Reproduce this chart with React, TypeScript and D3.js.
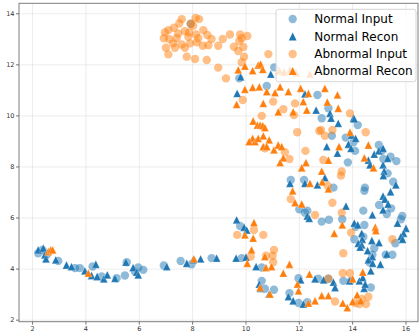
import React, { useRef, useEffect } from "react";
import * as d3 from "d3";

// points, as [x, y]
const normalInput: [number, number][] = [
  [7.93, 13.6], [11.06, 11.9], [10.78, 11.17], [12.68, 10.82], [13.09, 10.3], [12.84, 9.91],
  [9.75, 11.47], [11.68, 7.49], [12.18, 7.49],
  [14.19, 9.64], [13.22, 9.22], [13.74, 9.15], [14.03, 8.97], [14.09, 8.63], [13.82, 8.18],
  [14.98, 8.86], [15.15, 8.31], [15.42, 8.4], [15.64, 8.23], [15.09, 8.63], [15.31, 7.75],
  [15.52, 7.42], [14.46, 7.19], [13.28, 7.19],
  [9.78, 5.69], [12.0, 6.34], [12.21, 6.21], [12.3, 6.29], [9.84, 4.43],
  [14.44, 7.07], [14.99, 6.51], [14.4, 6.29], [15.28, 6.16], [15.44, 6.38], [15.86, 6.08],
  [15.81, 5.95], [12.84, 5.86], [13.11, 5.93], [13.61, 5.95], [14.44, 5.73], [14.11, 5.66],
  [15.6, 5.01], [14.06, 5.17], [14.4, 5.27], [14.81, 4.82], [14.74, 4.56], [15.49, 4.56], [15.24, 4.56],
  [10.59, 4.06], [10.59, 3.54], [10.71, 3.23], [11.05, 3.19], [11.63, 3.06], [11.97, 3.64],
  [11.97, 2.67], [12.3, 2.7], [12.71, 3.62], [13.09, 3.62], [13.65, 3.54], [13.93, 3.54],
  [14.63, 4.27], [14.68, 3.28],
  [2.21, 4.62], [2.37, 4.75], [2.53, 4.56], [2.96, 4.32], [3.59, 4.04], [3.77, 4.04], [4.25, 4.1],
  [4.59, 3.71], [5.15, 3.64], [5.53, 4.27], [5.84, 3.9], [5.96, 4.06], [6.15, 3.97], [5.46, 3.75],
  [6.92, 4.14], [7.55, 4.32], [7.96, 4.19], [8.71, 4.43],
];

const normalRecon: [number, number][] = [
  [10.93, 11.64], [12.21, 10.86], [12.63, 10.23], [13.15, 10.1], [14.03, 9.91],
  [9.67, 10.88], [9.8, 11.53],
  [11.65, 7.36], [12.21, 7.36], [12.68, 7.3],
  [13.19, 9.91], [14.06, 9.88], [13.46, 9.71], [13.96, 9.25], [14.11, 9.12], [13.84, 8.89],
  [13.94, 8.73], [13.03, 8.8], [13.43, 8.54], [14.59, 8.27], [14.65, 8.08], [14.81, 8.5],
  [14.98, 8.63], [15.14, 8.73], [15.31, 8.34], [15.14, 8.08], [15.18, 7.84], [15.15, 7.66],
  [15.62, 7.3], [15.42, 7.03], [12.96, 7.58],
  [9.65, 5.93], [9.93, 5.64], [10.03, 5.53], [12.3, 6.08], [12.37, 5.99], [9.63, 4.43], [10.0, 4.47],
  [13.75, 6.47], [14.74, 6.12], [15.14, 6.86], [15.21, 6.74], [15.33, 6.55], [15.14, 6.32],
  [15.68, 5.8], [16.0, 5.6], [15.91, 5.4], [15.81, 5.27], [15.87, 5.17], [14.06, 5.8],
  [14.19, 5.73], [14.34, 5.4], [14.36, 5.17], [14.21, 5.01], [14.34, 4.95], [14.28, 4.86],
  [14.72, 5.12], [14.99, 5.04], [14.56, 4.72], [14.74, 4.49], [15.28, 4.59],
  [10.38, 4.1], [10.5, 3.41], [10.55, 3.25], [10.87, 3.02], [11.59, 2.92], [11.77, 2.76],
  [12.05, 3.58], [12.15, 2.63], [12.59, 3.62], [12.91, 3.58], [13.28, 3.49], [13.34, 3.28],
  [13.88, 3.54], [14.25, 3.54], [14.38, 3.67], [14.43, 3.25], [14.47, 3.41], [14.59, 4.36],
  [14.68, 3.93], [15.04, 4.19], [14.75, 4.23],
  [2.21, 4.75], [2.4, 4.82], [2.46, 4.56], [2.5, 4.4], [2.87, 4.36], [3.27, 4.16], [3.46, 4.1],
  [3.96, 3.93], [4.21, 3.75], [4.37, 4.19], [4.42, 3.71], [4.67, 3.62], [4.8, 3.77], [5.09, 3.64],
  [5.5, 4.27], [5.77, 4.06], [5.9, 3.88], [5.96, 3.77], [7.03, 4.1], [7.78, 4.23], [8.02, 4.36],
  [8.3, 4.4], [8.9, 4.43],
];

const abnormalInput: [number, number][] = [
  [7.59, 13.79], [8.11, 13.84], [8.24, 13.79], [7.93, 13.62], [7.5, 13.62], [8.02, 13.53],
  [7.3, 13.45], [7.09, 13.36], [6.96, 13.27], [7.71, 13.32], [7.87, 13.27], [8.4, 13.36],
  [7.46, 13.23], [8.13, 13.19], [8.55, 13.17], [9.4, 13.19], [9.78, 13.19], [10.05, 13.13],
  [6.92, 13.04], [7.12, 13.01], [7.4, 13.04], [7.84, 13.1], [8.21, 13.04], [8.71, 13.01],
  [9.13, 13.01], [9.84, 13.04], [7.27, 12.84], [7.59, 12.8], [7.9, 12.84], [8.15, 12.88],
  [8.38, 12.75], [8.59, 12.77], [9.75, 12.93], [7.0, 12.67], [7.34, 12.67], [7.71, 12.67],
  [8.96, 12.75], [9.55, 12.71], [9.71, 12.54], [7.09, 12.41], [7.78, 12.32], [8.09, 12.23],
  [8.53, 12.19], [9.93, 12.32], [8.96, 11.89], [9.84, 12.1], [10.84, 12.42], [9.9, 12.7],
  [11.02, 10.56], [11.4, 10.26], [11.84, 10.49], [13.9, 10.1], [9.25, 11.47], [9.88, 10.62],
  [10.59, 10.0], [11.8, 10.03], [11.92, 9.36], [10.71, 8.73], [11.46, 8.58], [11.63, 8.31],
  [12.23, 8.63], [12.75, 9.41],
  [12.81, 9.45], [12.96, 9.22], [13.24, 9.45], [14.49, 9.36], [12.9, 8.27], [13.59, 7.82],
  [13.56, 7.66], [13.06, 7.27],
  [11.68, 6.74], [12.59, 6.12], [9.67, 5.34], [10.3, 5.53], [10.65, 5.34], [11.05, 4.75],
  [11.0, 4.52], [10.18, 4.49], [10.75, 4.52],
  [13.24, 6.6], [13.59, 6.21], [13.94, 5.43], [15.49, 5.17], [13.65, 4.62],
  [11.02, 4.27], [13.09, 3.62], [13.34, 2.73], [13.63, 3.84], [13.9, 3.84], [14.09, 2.67],
  [14.25, 2.63], [14.34, 2.83], [14.5, 2.63], [14.59, 2.92],
];

const abnormalRecon: [number, number][] = [
  [9.96, 11.95], [10.25, 11.77], [10.46, 11.99], [10.55, 12.03], [10.63, 11.82], [9.96, 11.04],
  [10.25, 11.12], [10.5, 11.14], [10.78, 10.95], [11.09, 10.91], [11.28, 11.14], [11.59, 10.95],
  [12.05, 11.08], [12.34, 10.88], [12.96, 11.08], [13.05, 10.54], [13.43, 10.82], [10.65, 10.49],
  [11.21, 10.16], [11.77, 10.16], [12.28, 10.23], [12.15, 10.56], [13.46, 10.3],
  [11.25, 11.77], [11.43, 11.72], [11.65, 11.82], [11.88, 11.69], [12.4, 11.64],
  [9.71, 11.8], [9.65, 10.45],
  [10.27, 9.8], [10.43, 9.64], [10.53, 9.64], [10.63, 9.62], [10.71, 9.54], [10.25, 9.12],
  [10.12, 8.99], [10.34, 8.99], [10.46, 9.12], [10.65, 9.22], [10.87, 9.06], [10.65, 8.8],
  [10.78, 8.8], [11.05, 8.67], [11.21, 8.86], [11.34, 8.8], [11.4, 8.36], [11.28, 8.17],
  [12.25, 8.17], [12.09, 7.97], [11.75, 7.06], [12.4, 7.36],
  [13.9, 9.36], [13.49, 8.8], [13.09, 8.27], [14.44, 8.36], [14.59, 8.86], [14.78, 7.97],
  [12.84, 7.84], [12.86, 7.42], [13.09, 7.14],
  [11.84, 6.6], [12.09, 6.55], [10.3, 5.82], [9.96, 5.34], [10.27, 5.21], [10.21, 4.75], [10.71, 4.49],
  [13.61, 5.73], [13.31, 5.4], [14.85, 5.64], [14.87, 5.51],
  [10.05, 4.23], [10.75, 4.06], [10.96, 4.1], [11.4, 3.84], [11.63, 4.19], [10.53, 3.28],
  [10.9, 3.02], [11.93, 3.41], [11.97, 3.15], [12.38, 3.8], [12.34, 2.67], [12.59, 2.76],
  [12.84, 2.96], [13.09, 2.96], [13.63, 2.67], [13.8, 2.49], [14.0, 3.62], [14.0, 2.73],
  [14.17, 2.99], [14.3, 2.76], [14.38, 3.88],
  [2.59, 4.69], [2.68, 4.75], [2.75, 4.75], [4.09, 3.84], [8.05, 4.4],
];

const xTicks = [2, 4, 6, 8, 10, 12, 14, 16];
const yTicks = [2, 4, 6, 8, 10, 12, 14];
const legendLabels = ["Normal Input", "Normal Recon", "Abnormal Input", "Abnormal Recon"];

const BLUE = "#1f77b4";
const ORANGE = "#ff7f0e";

// matplotlib style '^' marker
const tri = (r: number) => `M0,${-r}L${r},${r}L${-r},${r}Z`;

const App = () => {
  const ref = useRef<SVGSVGElement>(null);

  useEffect(() => {
    const svg = d3.select(ref.current);
    svg.selectAll("*").remove();

    const left = 19, right = 418, top = 3.3, bottom = 321.7;
    const x = d3.scaleLinear().domain([1.49, 16.45]).range([left, right]);
    const y = d3.scaleLinear().domain([1.94, 14.41]).range([bottom, top]);

    // grid
    const grid = svg.append("g");
    grid.selectAll(".gx").data(xTicks).enter().append("line")
      .attr("x1", (d) => x(d)).attr("x2", (d) => x(d))
      .attr("y1", top).attr("y2", bottom)
      .attr("stroke", "#b0b0b0").attr("stroke-opacity", 0.3).attr("stroke-width", 0.8);
    grid.selectAll(".gy").data(yTicks).enter().append("line")
      .attr("x1", left).attr("x2", right)
      .attr("y1", (d) => y(d)).attr("y2", (d) => y(d))
      .attr("stroke", "#b0b0b0").attr("stroke-opacity", 0.3).attr("stroke-width", 0.8);

    const plot = svg.append("g");

    const circles = (data: [number, number][], color: string) =>
      plot.append("g").selectAll("circle").data(data).enter().append("circle")
        .attr("cx", (d) => x(d[0])).attr("cy", (d) => y(d[1]))
        .attr("r", 4.2).attr("fill", color).attr("fill-opacity", 0.5);

    const triangles = (data: [number, number][], color: string) =>
      plot.append("g").selectAll("path").data(data).enter().append("path")
        .attr("d", tri(3.9))
        .attr("transform", (d) => `translate(${x(d[0])},${y(d[1])})`)
        .attr("fill", color)
        .attr("stroke", "#ffffff").attr("stroke-width", 0.4).attr("stroke-opacity", 0.6);

    circles(normalInput, BLUE);
    triangles(normalRecon, BLUE);
    circles(abnormalInput, ORANGE);
    triangles(abnormalRecon, ORANGE);

    // spines
    svg.append("rect")
      .attr("x", left).attr("y", top)
      .attr("width", right - left).attr("height", bottom - top)
      .attr("fill", "none").attr("stroke", "#7f7f7f").attr("stroke-width", 1);

    // ticks
    const axes = svg.append("g").attr("font-family", "DejaVu Sans").attr("font-size", 6.5).attr("fill", "#333");
    xTicks.forEach((t) => {
      axes.append("line").attr("x1", x(t)).attr("x2", x(t)).attr("y1", bottom).attr("y2", bottom + 3)
        .attr("stroke", "#555").attr("stroke-width", 0.8);
      axes.append("text").attr("x", x(t)).attr("y", bottom + 9.5).attr("text-anchor", "middle").text(t);
    });
    yTicks.forEach((t) => {
      axes.append("line").attr("x1", left - 3).attr("x2", left).attr("y1", y(t)).attr("y2", y(t))
        .attr("stroke", "#555").attr("stroke-width", 0.8);
      axes.append("text").attr("x", left - 4.5).attr("y", y(t)).attr("dy", "0.35em")
        .attr("text-anchor", "end").text(t);
    });

    // legend
    const lg = svg.append("g");
    lg.append("rect")
      .attr("x", 276).attr("y", 9.3).attr("width", 140).attr("height", 72.4).attr("rx", 2.5)
      .attr("fill", "#fff").attr("fill-opacity", 0.8).attr("stroke", "#cccccc").attr("stroke-width", 0.8);
    const rowY = [19, 36.5, 54, 71];
    legendLabels.forEach((label, i) => {
      const color = i < 2 ? BLUE : ORANGE;
      if (i % 2 === 0) {
        lg.append("circle").attr("cx", 292.7).attr("cy", rowY[i]).attr("r", 4.2)
          .attr("fill", color).attr("fill-opacity", 0.5);
      } else {
        lg.append("path").attr("d", tri(3.9)).attr("transform", `translate(292.7,${rowY[i]})`)
          .attr("fill", color);
      }
      lg.append("text").attr("x", 314.3).attr("y", rowY[i]).attr("dy", "0.35em")
        .attr("font-family", "DejaVu Sans").attr("font-size", 12).attr("fill", "#000")
        .text(label);
    });
  }, []);

  return (
    <svg
      ref={ref}
      width={420}
      height={333}
      style={{ position: "absolute", left: 0, top: 0, background: "#fff" }}
    />
  );
};

export default App;
